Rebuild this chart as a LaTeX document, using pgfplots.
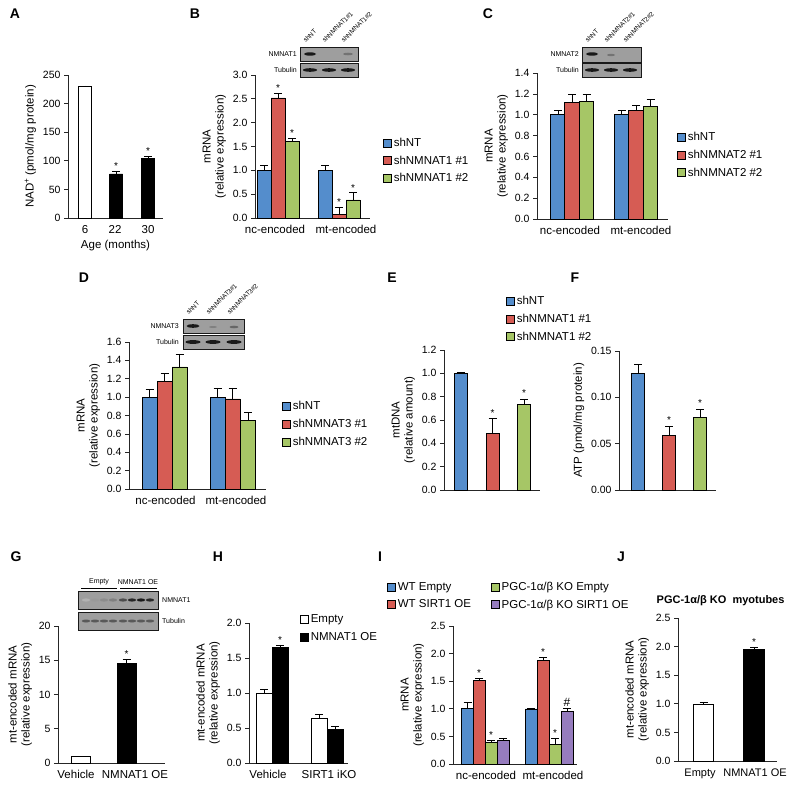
\documentclass[border=0pt]{standalone}
\usepackage{fontspec}
\setmainfont{Liberation Sans}
\usepackage{pgfplots}
\pgfplotsset{compat=1.18}

\definecolor{cblue}{RGB}{84,141,204}
\definecolor{cred}{RGB}{214,92,84}
\definecolor{cgreen}{RGB}{166,198,102}
\definecolor{cpurple}{RGB}{150,124,190}

\pgfplotsset{
  sq legend/.style={legend image code/.code={\draw[##1,draw=black,line width=0.6pt] (0pt,-4pt) rectangle (8pt,4pt);}},
  panel/.style={
    scale only axis, anchor=south west, clip=false,
    axis x line*=bottom, axis y line*=left,
    axis line style={-, line width=0.7pt, black!85},
    xmin=0, ymin=0,
    tick align=outside, ytick pos=left,
    major tick length=4pt,
    ytick style={line width=0.7pt, black!85},
    xtick style={draw=none},
    yticklabel style={font=\fontsize{10.5}{12}\selectfont},
    xticklabel style={font=\fontsize{11.5}{13}\selectfont},
    /pgf/number format/assume math mode=true,
    label style={font=\fontsize{11.5}{13}\selectfont},
    ylabel style={align=center},
    legend cell align=left,
    legend style={anchor=north west, draw=none, fill=none, inner sep=0pt,
      font=\fontsize{11.5}{13}\selectfont, row sep=4pt},
  },
  bars/.style={ybar, bar shift=0pt, bar width=#1, draw=black, line width=0.6pt,
    error bars/.cd, y dir=plus, y explicit,
    error bar style={line width=0.6pt, black},
    error mark options={rotate=90, mark size=4pt, line width=0.6pt, black},
    /pgfplots/.cd, sq legend},
  one dec/.style={yticklabel style={/pgf/number format/.cd, fixed, fixed zerofill, precision=1}},
  two dec/.style={yticklabel style={/pgf/number format/.cd, fixed, fixed zerofill, precision=2}},
}
\tikzset{star/.style={anchor=south, inner sep=1pt, font=\fontsize{10}{10}\selectfont}}

\begin{document}
\begin{tikzpicture}
\useasboundingbox (0,0) rectangle (800pt,-790pt);

% ---------- A
\begin{axis}[panel, at={(68pt,-218pt)}, width=95pt, height=143pt,
  xmax=95, ymax=250, ytick={0,50,...,250},
  xtick={17,47,80}, xticklabels={6,22,30},
  xlabel={Age (months)}, ylabel={NAD\textsuperscript{+} (pmol/mg protein)}]
\addplot[bars=13pt, fill=white] coordinates {(17,230) +- (0,1)};
\addplot[bars=13pt, fill=black] coordinates {(48,77) +- (0,4) (80,104) +- (0,4)};
\node[star] at (axis cs:48,82) {*};
\node[star] at (axis cs:80,109) {*};
\end{axis}

% ---------- B
\begin{axis}[panel, one dec, at={(255pt,-218pt)}, width=115pt, height=143pt,
  xmax=115, ymax=3, ytick={0,0.5,...,3.0},
  xtick={20,91}, xticklabels={nc-encoded,mt-encoded},
  ylabel={mRNA\\(relative expression)},
  legend style={at={(1.113,0.575)}}]
\addplot[bars=14pt, fill=cblue] coordinates {(9,1.0) +- (0,0.1) (70,1.0) +- (0,0.1)};
\addplot[bars=14pt, fill=cred] coordinates {(23,2.52) +- (0,0.1) (84,0.08) +- (0,0.15)};
\addplot[bars=14pt, fill=cgreen] coordinates {(37,1.6) +- (0,0.07) (98,0.38) +- (0,0.15)};
\legend{shNT, shNMNAT1 \#1, shNMNAT1 \#2}
\node[star] at (axis cs:23,2.63) {*};
\node[star] at (axis cs:37,1.68) {*};
\node[star] at (axis cs:84,0.24) {*};
\node[star] at (axis cs:98,0.54) {*};
\end{axis}

% ---------- C
\begin{axis}[panel, one dec, at={(537pt,-219pt)}, width=131pt, height=146pt,
  xmax=131, ymax=1.4, ytick={0,0.2,...,1.4},
  xtick={33,104}, xticklabels={nc-encoded,mt-encoded},
  ylabel={mRNA\\(relative expression)},
  legend style={at={(1.069,0.61)}}]
\addplot[bars=14.5pt, fill=cblue] coordinates {(21,1.0) +- (0,0.045) (84.5,1.0) +- (0,0.04)};
\addplot[bars=14.5pt, fill=cred] coordinates {(35,1.116) +- (0,0.075) (99,1.043) +- (0,0.045)};
\addplot[bars=14.5pt, fill=cgreen] coordinates {(49.5,1.13) +- (0,0.07) (113.5,1.08) +- (0,0.07)};
\legend{shNT, shNMNAT2 \#1, shNMNAT2 \#2}
\end{axis}

% ---------- D
\begin{axis}[panel, one dec, at={(129pt,-489pt)}, width=137pt, height=147pt,
  xmax=137, ymax=1.6, ytick={0,0.2,...,1.6},
  xtick={36.5,107}, xticklabels={nc-encoded,mt-encoded},
  ylabel={mRNA\\(relative expression)},
  legend style={at={(1.117,0.61)}}]
\addplot[bars=15pt, fill=cblue] coordinates {(20.5,1.0) +- (0,0.08) (88.5,1.0) +- (0,0.1)};
\addplot[bars=15pt, fill=cred] coordinates {(35.5,1.17) +- (0,0.09) (103.5,0.98) +- (0,0.12)};
\addplot[bars=15pt, fill=cgreen] coordinates {(50.5,1.33) +- (0,0.14) (119,0.745) +- (0,0.09)};
\legend{shNT, shNMNAT3 \#1, shNMNAT3 \#2}
\end{axis}

% ---------- E
\begin{axis}[panel, one dec, at={(444pt,-490pt)}, width=96pt, height=140pt,
  xmax=96, ymax=1.2, ytick={0,0.2,...,1.2}, xtick=\empty,
  ylabel={mtDNA\\(relative amount)},
  legend style={at={(0.646,1.40)}}]
\addplot[bars=13pt, fill=cblue] coordinates {(16.5,1.0) +- (0,0.01)};
\addplot[bars=13pt, fill=cred] coordinates {(48.5,0.486) +- (0,0.125)};
\addplot[bars=13pt, fill=cgreen] coordinates {(80,0.734) +- (0,0.045)};
\legend{shNT, shNMNAT1 \#1, shNMNAT1 \#2}
\node[star] at (axis cs:48.5,0.62) {*};
\node[star] at (axis cs:80,0.79) {*};
\end{axis}

% ---------- F
\begin{axis}[panel, two dec, at={(619pt,-490pt)}, width=97pt, height=139pt,
  xmax=97, ymax=0.15, ytick={0,0.05,0.10,0.15}, xtick=\empty,
  ylabel={ATP (pmol/mg protein)}]
\addplot[bars=12.5pt, fill=cblue] coordinates {(19,0.1263) +- (0,0.0093)};
\addplot[bars=12.5pt, fill=cred] coordinates {(50,0.0592) +- (0,0.0097)};
\addplot[bars=12.5pt, fill=cgreen] coordinates {(81,0.0786) +- (0,0.0086)};
\node[star] at (axis cs:50,0.070) {*};
\node[star] at (axis cs:81,0.0885) {*};
\end{axis}

% ---------- G
\begin{axis}[panel, at={(58pt,-763pt)}, width=107pt, height=137pt,
  xmax=107, ymax=20, ytick={0,5,...,20},
  xtick={18,77}, xticklabels={Vehicle,NMNAT1 OE},
  ylabel={mt-encoded mRNA\\(relative expression)}]
\addplot[bars=19pt, fill=white] coordinates {(22.5,1.0) +- (0,0)};
\addplot[bars=19pt, fill=black] coordinates {(68.5,14.6) +- (0,0.5)};
\node[star] at (axis cs:68.5,15.3) {*};
\end{axis}

% ---------- H
\begin{axis}[panel, one dec, at={(249pt,-763pt)}, width=99pt, height=140pt,
  xmax=99, ymax=2.0, ytick={0,0.5,...,2.0},
  xtick={19,80}, xticklabels={Vehicle,SIRT1 iKO},
  ylabel={mt-encoded mRNA\\(relative expression)},
  legend style={at={(0.515,1.075)}}]
\addplot[bars=16pt, fill=white] coordinates {(15,1.0) +- (0,0.05) (70,0.633) +- (0,0.065)};
\addplot[bars=16pt, fill=black] coordinates {(31,1.65) +- (0,0.025) (86,0.48) +- (0,0.04)};
\legend{Empty, NMNAT1 OE}
\node[star] at (axis cs:31,1.69) {*};
\end{axis}

% ---------- I
\begin{axis}[panel, one dec, at={(453pt,-764pt)}, width=124pt, height=138pt,
  xmax=124, ymax=2.5, ytick={0,0.5,...,2.5},
  xtick={33,100}, xticklabels={nc-encoded,mt-encoded},
  ylabel={mRNA\\(relative expression)},
  legend columns=2,
  legend style={at={(-0.532,1.335)}, /tikz/column 2/.style={column sep=18pt}}]
\addplot[bars=12pt, fill=cblue] coordinates {(14.5,1.01) +- (0,0.1) (78,1.0) +- (0,0.01)};
\addplot[bars=12pt, fill=cgreen] coordinates {(38,0.39) +- (0,0.04) (102,0.36) +- (0,0.11)};
\addplot[bars=12pt, fill=cred] coordinates {(26,1.51) +- (0,0.05) (90,1.88) +- (0,0.05)};
\addplot[bars=12pt, fill=cpurple] coordinates {(50,0.43) +- (0,0.03) (114,0.96) +- (0,0.05)};
\legend{WT Empty, PGC-1α/β KO Empty, WT SIRT1 OE, PGC-1α/β KO SIRT1 OE}
\node[star] at (axis cs:26,1.57) {*};
\node[star] at (axis cs:38,0.44) {*};
\node[star] at (axis cs:90,1.94) {*};
\node[star] at (axis cs:102,0.48) {*};
\node[anchor=south, inner sep=1pt, font=\fontsize{12}{12}\selectfont] at (axis cs:114,1.02) {\#};
\end{axis}

% ---------- J
\begin{axis}[panel, one dec, at={(678pt,-761pt)}, width=99pt, height=143pt,
  xmax=99, ymax=2.5, ytick={0,0.5,...,2.5},
  xtick={22,77}, xticklabels={Empty,NMNAT1 OE},
  xticklabel style={font=\fontsize{11}{13}\selectfont},
  ylabel={mt-encoded mRNA\\(relative expression)},
  title={PGC-1α/β KO\ \ myotubes},
  title style={font=\bfseries\fontsize{11}{13}\selectfont, at={(0.43,1)}, anchor=south, yshift=3pt}]
\addplot[bars=20.5pt, fill=white] coordinates {(25.5,1.0) +- (0,0.03)};
\addplot[bars=20.5pt, fill=black] coordinates {(76,1.95) +- (0,0.04)};
\node[star] at (axis cs:76,2.0) {*};
\end{axis}

% ---------- blots and panel letters
\begin{scope}[x=1pt, y=-1pt]
\tikzset{blot/.style={fill=black!38, draw=black!90, line width=0.7pt},
  blab/.style={font=\fontsize{7}{8}\selectfont, inner sep=1pt},
  clab/.style={font=\fontsize{6.5}{8}\selectfont, inner sep=0.5pt, anchor=south west, rotate=45}}
% B
\draw[blot] (300,47) rectangle (358,61);
\draw[blot] (300,63) rectangle (358,77);
\fill[black!90] (310,54) ellipse (6pt and 1.7pt);
\fill[black!55] (348,54) ellipse (5pt and 1.3pt);
\foreach \x in {310,329,348} \fill[black!90] (\x,70) ellipse (7pt and 1.8pt);
\node[blab, anchor=east] at (298,54) {NMNAT1};
\node[blab, anchor=east] at (298,70) {Tubulin};
\node[clab] at (306,44) {shNT};
\node[clab] at (325,44) {shNMNAT1\#1};
\node[clab] at (344,44) {shNMNAT1\#2};
% C
\draw[blot] (582,47) rectangle (641,62);
\draw[blot] (582,63) rectangle (641,77);
\fill[black!90] (592,54) ellipse (6pt and 1.7pt);
\fill[black!55] (611,55) ellipse (4pt and 1.2pt);
\foreach \x in {592,611,630} \fill[black!90] (\x,70) ellipse (7pt and 1.8pt);
\node[blab, anchor=east] at (580,54) {NMNAT2};
\node[blab, anchor=east] at (580,70) {Tubulin};
\node[clab] at (588,44) {shNT};
\node[clab] at (607,44) {shNMNAT2\#1};
\node[clab] at (626,44) {shNMNAT2\#2};
% D
\draw[blot] (183,319) rectangle (244,333);
\draw[blot] (183,335) rectangle (244,349);
\fill[black!90] (193,326) ellipse (6.5pt and 1.8pt);
\fill[black!50] (213,327) ellipse (4pt and 1pt);
\fill[black!60] (234,327) ellipse (4.5pt and 1.3pt);
\foreach \x in {193,213,234} \fill[black!90] (\x,342) ellipse (7.5pt and 1.9pt);
\node[blab, anchor=east] at (180,326) {NMNAT3};
\node[blab, anchor=east] at (180,342) {Tubulin};
\node[clab] at (189,316) {shNT};
\node[clab] at (209,316) {shNMNAT3\#1};
\node[clab] at (230,316) {shNMNAT3\#2};
% G
\draw[blot] (78,591) rectangle (158,609);
\draw[blot] (78,612) rectangle (158,630);
\foreach \x/\s in {86/30,95/40,104/45,113/50,123/70,132/85,141/90,150/85}
  \fill[black!\s] (\x,600) ellipse (4.2pt and 1.6pt);
\foreach \x in {86,95,104,113,123,132,141,150}
  \fill[black!65] (\x,621) ellipse (4.2pt and 1.5pt);
\node[blab, anchor=west] at (161,600) {NMNAT1};
\node[blab, anchor=west] at (161,621) {Tubulin};
\node[blab] at (99,582) {Empty};
\node[blab] at (138,582) {NMNAT1 OE};
\draw[line width=0.5pt] (81,588) -- (117,588);
\draw[line width=0.5pt] (120,588) -- (157,588);
% letters
\tikzset{letter/.style={font=\bfseries\fontsize{14}{14}\selectfont}}
\node[letter] at (15,14) {A};
\node[letter] at (195,14) {B};
\node[letter] at (488,14) {C};
\node[letter] at (84,278) {D};
\node[letter] at (392,278) {E};
\node[letter] at (575,278) {F};
\node[letter] at (16,557) {G};
\node[letter] at (218,557) {H};
\node[letter] at (380,557) {I};
\node[letter] at (621,557) {J};
\end{scope}
\end{tikzpicture}
\end{document}
